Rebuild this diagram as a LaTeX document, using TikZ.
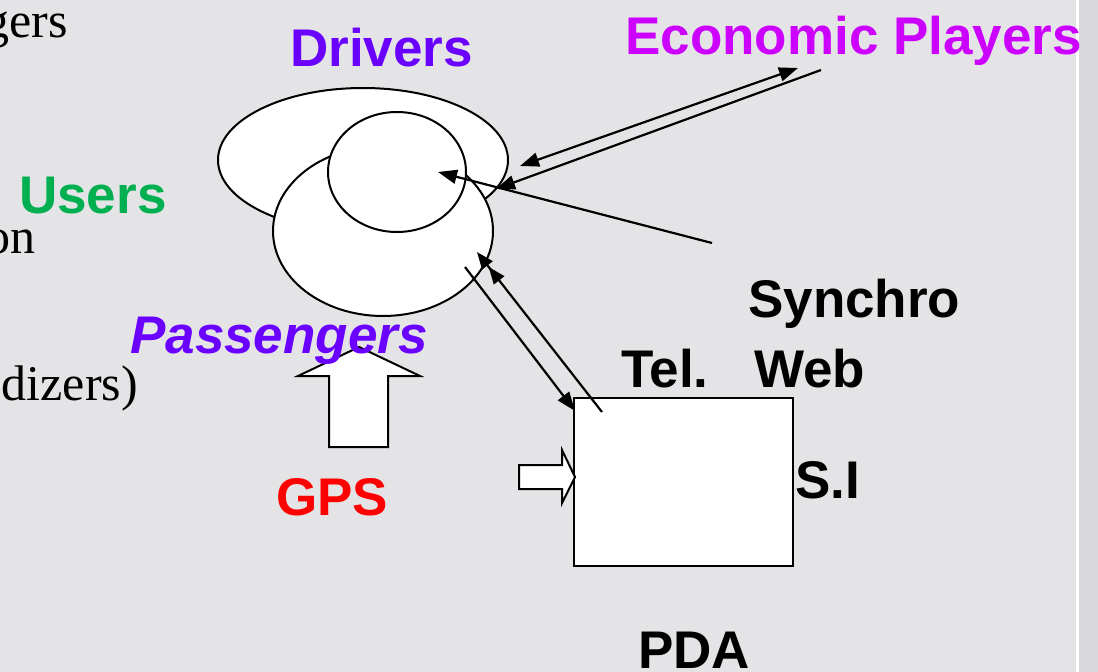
\documentclass[tikz,border=0pt]{standalone}
\usepackage{fontspec}
\setmainfont{Liberation Sans}
\newfontfamily\seriffrag{Liberation Serif}
\usetikzlibrary{arrows.meta,shapes.geometric}
\definecolor{marble}{HTML}{E4E4E6}
\definecolor{marbleedge}{HTML}{D9D9DC}
\definecolor{driverviolet}{HTML}{6A00FF}
\definecolor{econmagenta}{HTML}{CC00FF}
\definecolor{usergreen}{HTML}{00B050}
\definecolor{gpsred}{HTML}{FF0000}
\tikzset{
  setshape/.style={ellipse, draw=black, fill=white, line width=2pt, inner sep=0pt},
  bigword/.style={inner sep=0pt, anchor=base west, font=\fontsize{53}{60}\selectfont\bfseries},
  fragword/.style={inner sep=0pt, anchor=base east, font=\fontsize{50}{56}\selectfont\seriffrag},
  link/.style={line width=2.2pt, draw=black},
  head/.tip={Triangle[length=19pt,width=14pt]},
  tip/.style={-head},
  blockarrow/.style={draw=black, fill=white, line width=2pt, line join=miter},
}
\begin{document}
\begin{tikzpicture}[x=1pt,y=-1pt]
  % page and background
  \useasboundingbox (0,0) rectangle (1098,672);
  \clip (0,0) rectangle (1098,672);
  \fill[marble] (0,0) rectangle (1098,672);
  \fill[marbleedge] (1078,0) rectangle (1098,672);
  \fill[white] (1076,0) rectangle (1078.5,672);

  % overlapping user sets
  \node[setshape, minimum width=290pt, minimum height=144pt] (drivers) at (363,160) {};
  \node[setshape, minimum width=220pt, minimum height=170pt] (passengers) at (383,231) {};
  \node[setshape, minimum width=138pt, minimum height=120pt] (core) at (397,172) {};

  % PDA box
  \node[draw=black, fill=white, line width=2pt, inner sep=0pt,
        minimum width=219pt, minimum height=168pt] (pda) at (683.5,482) {};

  % connector end points
  \coordinate (econA) at (798,68);
  \coordinate (econAend) at (520,166);
  \coordinate (econB) at (821,70);
  \coordinate (econBend) at (496,189);
  \coordinate (webstart) at (712,243);
  \coordinate (coretarget) at (438,172);
  \coordinate (telA) at (465,267);
  \coordinate (telAend) at (575,411);
  \coordinate (telB) at (602,412);
  \coordinate (telBend) at (477,252);

  % connectors
  \draw[link, head-head] (econAend) -- (econA);
  \draw[link, tip] (econB) -- (econBend);
  \draw[link, tip] (webstart) -- (coretarget);
  \draw[link, tip] (telA) -- (telAend);
  \draw[link, -{Triangle[length=17pt,width=13pt,sep=2pt]Triangle[length=17pt,width=13pt]}] (telB) -- (telBend);

  % block arrows
  \draw[blockarrow] (329,447) -- (329,376) -- (298,376) -- (359,347) -- (420,376)
                    -- (388,376) -- (388,447) -- cycle;
  \draw[blockarrow] (519,465) -- (562,465) -- (562,450) -- (575,477) -- (562,503)
                    -- (562,489) -- (519,489) -- cycle;

  % labels
  \node[bigword, text=driverviolet] (tdrivers) at (290,66) {Drivers};
  \node[bigword, text=econmagenta] (tecon) at (625,54) {Economic Players};
  \node[bigword, text=usergreen] (tusers) at (19,213) {Users};
  \node[bigword, text=driverviolet, font=\fontsize{53}{60}\selectfont\bfseries\itshape] (tpass) at (130,353) {Passengers};
  \node[bigword, text=gpsred] (tgps) at (276,515) {GPS};
  \node[bigword] (tsync) at (748,317) {Synchro};
  \node[bigword] (ttel) at (621,387) {Tel.};
  \node[bigword] (tweb) at (754,387) {Web};
  \node[bigword] (tsi) at (795,498) {S.I};
  \node[bigword] (tpda) at (638,668) {PDA};

  % word fragments at the left edge
  \node[fragword] (fraga) at (68,37) {gers};
  \node[fragword] (fragb) at (36,253) {on};
  \node[fragword] (fragc) at (138,400) {dizers)};
\end{tikzpicture}
\end{document}
